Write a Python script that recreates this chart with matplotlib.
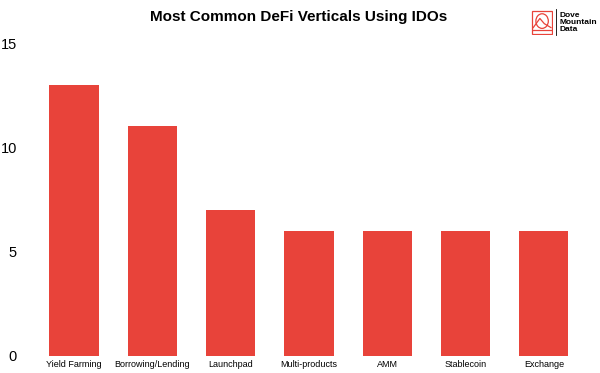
import matplotlib.pyplot as plt
from matplotlib.patches import Rectangle, Circle

plt.rcParams['font.family'] = ['Liberation Sans', 'DejaVu Sans']

# data
verticals = ['Yield Farming', 'Borrowing/Lending', 'Launchpad', 'Multi-products',
             'AMM', 'Stablecoin', 'Exchange']
counts = [13, 11, 7, 6, 6, 6, 6]
yticks = [0, 5, 10, 15]

red = '#E8433A'

fig = plt.figure(figsize=(6, 3.73), dpi=100)
ax = fig.add_axes([0.0583, 0.0456, 0.9133, 0.839])

ax.bar(range(len(verticals)), counts, width=0.63, color=red)
ax.set_xlim(-0.5, len(verticals) - 0.5)
ax.set_ylim(0, 15)
ax.set_yticks(yticks)
ax.set_xticks(range(len(verticals)))
ax.set_xticklabels(verticals, fontsize=6.5)
ax.tick_params(axis='y', length=0, pad=13, labelsize=10.5)
ax.tick_params(axis='x', length=0, pad=3)
for s in ax.spines.values():
    s.set_visible(False)

fig.text(0.497, 0.955, 'Most Common DeFi Verticals Using IDOs',
         ha='center', va='center', fontsize=11, fontweight='bold')

# logo, top right
logo = fig.add_axes([0.885, 0.905, 0.037, 0.07])
logo.set_xlim(0, 1)
logo.set_ylim(0, 1)
logo.axis('off')
logo.add_patch(Rectangle((0.05, 0.05), 0.9, 0.9, fill=False, ec=red, lw=0.9))
logo.add_patch(Circle((0.5, 0.55), 0.28, fill=False, ec=red, lw=0.9))
logo.plot([0.1, 0.4, 0.6, 0.9], [0.3, 0.65, 0.45, 0.3], color=red, lw=0.9)
logo.plot([0.1, 0.9], [0.2, 0.2], color=red, lw=0.9)
logo.plot([1.12, 1.12], [0.0, 1.0], color='black', lw=0.6, clip_on=False)
fig.text(0.933, 0.94, 'Dove\nMountain\nData', ha='left', va='center',
         fontsize=6, fontweight='bold', linespacing=1.05)

fig.savefig('out.png', dpi=100)
